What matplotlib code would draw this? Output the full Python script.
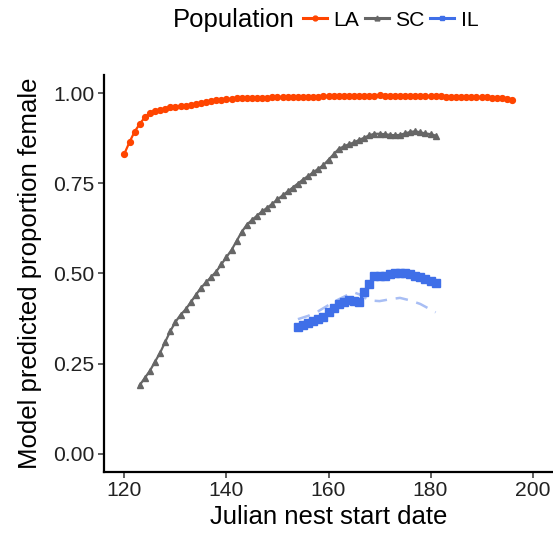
import matplotlib
matplotlib.use("Agg")
import matplotlib.pyplot as plt
from matplotlib.lines import Line2D

plt.rcParams['font.family'] = ['Liberation Sans', 'DejaVu Sans']

# Predicted proportion female by nest start date, per population
la_days = list(range(120, 197))
la_prop = [0.832, 0.864, 0.893, 0.914, 0.933, 0.945, 0.950, 0.954, 0.957, 0.960,
           0.962, 0.964, 0.965, 0.967, 0.969, 0.972, 0.975, 0.978, 0.980, 0.982,
           0.983, 0.984, 0.985, 0.985, 0.986, 0.986, 0.987, 0.987, 0.987, 0.988,
           0.988, 0.988, 0.989, 0.989, 0.989, 0.990, 0.990, 0.990, 0.990, 0.991,
           0.991, 0.991, 0.991, 0.991, 0.992, 0.992, 0.992, 0.992, 0.992, 0.993,
           0.994, 0.993, 0.993, 0.992, 0.992, 0.992, 0.991, 0.991, 0.991, 0.991,
           0.991, 0.991, 0.991, 0.990, 0.990, 0.990, 0.990, 0.989, 0.989, 0.989,
           0.988, 0.988, 0.987, 0.987, 0.986, 0.984, 0.982]

sc_days = list(range(123, 182))
sc_prop = [0.190, 0.210, 0.230, 0.255, 0.280, 0.310, 0.340, 0.365, 0.385, 0.400,
           0.420, 0.440, 0.460, 0.475, 0.490, 0.505, 0.525, 0.545, 0.565, 0.590,
           0.615, 0.635, 0.648, 0.660, 0.672, 0.682, 0.693, 0.705, 0.716, 0.727,
           0.738, 0.749, 0.760, 0.770, 0.780, 0.790, 0.800, 0.815, 0.830, 0.845,
           0.852, 0.858, 0.863, 0.870, 0.876, 0.883, 0.887, 0.887, 0.886, 0.884,
           0.883, 0.884, 0.888, 0.892, 0.894, 0.891, 0.888, 0.886, 0.882]

il_days = list(range(154, 182))
il_prop = [0.352, 0.358, 0.362, 0.367, 0.373, 0.380, 0.393, 0.405, 0.414, 0.420,
           0.425, 0.424, 0.421, 0.447, 0.470, 0.492, 0.493, 0.494, 0.498, 0.501,
           0.501, 0.500, 0.497, 0.493, 0.490, 0.484, 0.478, 0.472]

# alternative IL fit (dashed)
il_alt_days = [154, 156, 158, 160, 162, 164, 165, 166, 168, 170, 172, 174, 176, 178, 181]
il_alt_prop = [0.373, 0.382, 0.395, 0.412, 0.428, 0.442, 0.447, 0.442, 0.425, 0.423,
               0.428, 0.432, 0.425, 0.415, 0.392]

LA_COL = "#FF4500"
SC_COL = "#666666"
IL_COL = "#3F6FE8"

fig = plt.figure(figsize=(5.53, 5.33), dpi=100)
ax = fig.add_axes([104 / 553, 61.3 / 533, 1 - 104 / 553, (471.7 - 75) / 533])

ax.plot(il_alt_days, il_alt_prop, color=IL_COL, alpha=0.45, lw=1.8, dashes=(5, 3.5))
ax.plot(la_days, la_prop, color=LA_COL, lw=1.6, marker="o", ms=4.2)
ax.plot(sc_days, sc_prop, color=SC_COL, lw=1.6, marker="^", ms=5)
ax.plot(il_days, il_prop, color=IL_COL, lw=2.2, marker="s", ms=5.3)

ax.set_xlim(116, 204)
ax.set_ylim(-0.05, 1.05)
ax.set_xticks([120, 140, 160, 180, 200])
ax.set_yticks([0, 0.25, 0.5, 0.75, 1.0])
ax.set_yticklabels(["0.00", "0.25", "0.50", "0.75", "1.00"])
for side in ["top", "right"]:
    ax.spines[side].set_visible(False)
for side in ["left", "bottom"]:
    ax.spines[side].set_linewidth(1.6)
ax.tick_params(length=4, width=1.1, color="#333333", labelsize=15.2,
               labelcolor="#222222", pad=3)
ax.set_xlabel("Julian nest start date", fontsize=18.5, labelpad=3)
ax.set_ylabel("Model predicted proportion female", fontsize=18.5, labelpad=8)

# legend across the top with its title on the left
fig.text(173 / 553, 1 - 20 / 533, "Population", fontsize=18.5, va="center", ha="left")
handles = [Line2D([], [], color=c, lw=2.2, marker=m, ms=3.5)
           for c, m in [(LA_COL, "o"), (SC_COL, "^"), (IL_COL, "s")]]
fig.legend(handles, ["LA", "SC", "IL"], loc="center left",
           bbox_to_anchor=(303 / 553, 1 - 20 / 533), ncol=3, frameon=False,
           fontsize=15.2, handlelength=1.15, handletextpad=0.3, columnspacing=0.25,
           borderaxespad=0, borderpad=0)

fig.savefig("out.png", dpi=100)
